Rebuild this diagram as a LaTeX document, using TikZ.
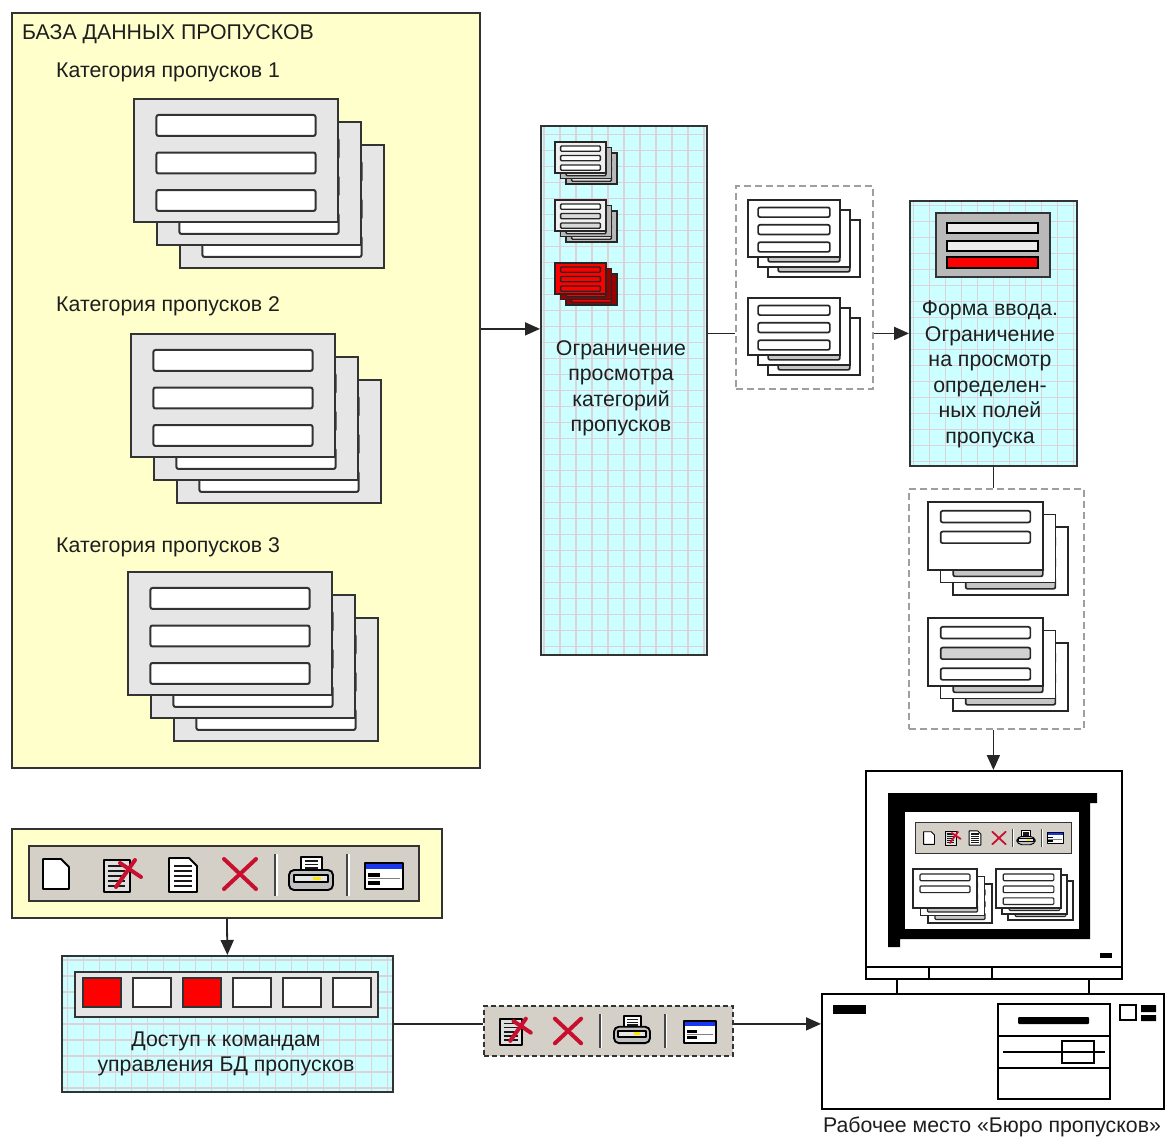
\documentclass[tikz,border=0pt]{standalone}
\usepackage{fontspec}
\setmainfont{Liberation Sans}
\usetikzlibrary{arrows.meta,positioning,calc}
\definecolor{ink}{HTML}{1E1E1E}
\definecolor{edge}{HTML}{333333}
\definecolor{straw}{HTML}{FFFFCC}
\definecolor{aqua}{HTML}{CCFFFF}
\definecolor{gridpink}{HTML}{DED2DA}
\definecolor{panel}{HTML}{D4D0C8}
\definecolor{sheetgray}{HTML}{E6E6E6}
\definecolor{alarm}{HTML}{FF0000}
\definecolor{darkalarm}{HTML}{9A0000}
\definecolor{xred}{HTML}{C8102E}
\definecolor{titleblue}{HTML}{1838F0}
% one form sheet: top-left x, y, width, height, sheet colour, bar colours
\newcommand{\sheet}[6]{%
  \draw[sheetline, fill=#5] ({#1},{#2}) rectangle ++({#3},{#4});
  \foreach \bc [count=\i] in {#6}
    \draw[barline, fill=\bc] ({#1+0.11*#3},{#2+(0.13+0.305*(\i-1))*#4}) rectangle ++({0.78*#3},{0.17*#4});
}
% three sheets, back to front: x, y, w, h, offset, front colour, front bars, back colour, back bars
\newcommand{\sheetstack}[9]{%
  \sheet{#1+2*#5}{#2+2*#5}{#3}{#4}{#8}{#9}
  \sheet{#1+#5}{#2+#5}{#3}{#4}{#8}{#9}
  \sheet{#1}{#2}{#3}{#4}{#6}{#7}
}
\tikzset{
  txt/.style={font=\fontsize{21.3}{25.5}\selectfont, text=ink, inner sep=0pt},
  ctxt/.style={txt, align=center},
  dbbox/.style={rectangle, draw=edge, line width=1.8pt, fill=straw, anchor=north west, inner sep=0pt},
  gridbox/.style={rectangle, draw=edge, line width=1.8pt, fill=aqua, anchor=north west, inner sep=0pt,
    path picture={\draw[gridpink, line width=1.2pt] (path picture bounding box.south west) grid[step=16pt] (path picture bounding box.north east);}},
  setbox/.style={rectangle, draw=gray!75, dash pattern=on 7pt off 4pt, line width=1.8pt, fill=white, anchor=north west, inner sep=0pt},
  toolbox/.style={rectangle, draw=edge, line width=1.8pt, fill=panel, anchor=north west, inner sep=0pt},
  hwbox/.style={rectangle, draw=black, line width=1.8pt, fill=white, anchor=north west, inner sep=0pt},
  hw/.style={draw=black, line width=1.8pt},
  flow/.style={-{Triangle[length=15pt,width=13pt]}, draw=black!85, line width=1.8pt},
  link/.style={draw=black!85, line width=1.8pt},
  sheetline/.style={draw=edge, line width=2.2pt},
  barline/.style={draw=edge, line width=2pt, rounded corners=2pt},
  ico/.style={draw=black, line width=1.9pt, line join=round},
  xstroke/.style={draw=xred, line width=4pt, line cap=round},
  icnew/.pic={\draw[ico, fill=white] (-13,-15) -- (5,-15) -- (13,-7) -- (13,15) -- (-13,15) -- cycle;},
  icedit/.pic={
    \draw[ico, fill=gray!25] (-19,-15) rectangle (7,17);
    \foreach \k in {-9,-4,1,6,11} \draw[draw=gray!20!black, line width=1.5pt] (-15,\k) -- (2,\k);
    \draw[xstroke] (-7,12) -- (12,-15);
    \draw[xstroke] (-3,-12) -- (18,2);},
  icdoc/.pic={
    \draw[ico, fill=white] (-14,-17) -- (6,-17) -- (14,-9) -- (14,17) -- (-14,17) -- cycle;
    \foreach \k in {-9,-4,1,6,11} \draw[draw=gray!20!black, line width=1.5pt] (-9,\k) -- (9,\k);},
  icdel/.pic={\draw[xstroke] (-16,-15) -- (16,15); \draw[xstroke] (-16,15) -- (16,-15);},
  icsep/.pic={\draw[draw=gray!55!black, line width=1.5pt] (0,-21) -- (0,21);
    \draw[draw=white, line width=1.2pt] (1.9,-21) -- (1.9,21);},
  icprint/.pic={
    \draw[ico, fill=white] (-10,-17) rectangle (11,-3);
    \foreach \k in {-13,-9.5,-6} \draw[draw=gray!20!black, line width=1.2pt] (-6,\k) -- (7,\k);
    \draw[ico, fill=gray!50, rounded corners=5pt] (-22,-4) rectangle (22,16);
    \draw[ico, fill=gray!20] (-17,1) rectangle (17,8);
    \fill[yellow!90!orange] (2,3) rectangle (10,6);},
  icform/.pic={
    \fill[white] (-19,-13) rectangle (19,13);
    \fill[titleblue] (-19,-13) rectangle (19,-7);
    \fill[black] (-16,-3) rectangle (-4,1);
    \fill[black] (-16,5) rectangle (-4,9);
    \draw[draw=gray, line width=0.8pt] (-16,2.8) -- (16,2.8);
    \draw[ico] (-19,-13) rectangle (19,13);}
}

\begin{document}
\begin{tikzpicture}[x=1pt, y=-1pt]
  \useasboundingbox (0,0) rectangle (1167,1137);

  % pass database with its three categories
  \node[dbbox, minimum width=468pt, minimum height=755pt] (db) at (11,12) {};
  \node[txt, anchor=west] (dbtitle) at (22,34) {БАЗА ДАННЫХ ПРОПУСКОВ};
  \node[txt, anchor=west] (cat1) at (56,72) {Категория пропусков 1};
  \node[txt, anchor=west] (cat2) at (56,306) {Категория пропусков 2};
  \node[txt, anchor=west] (cat3) at (56,547) {Категория пропусков 3};
  \sheetstack{134}{99}{204}{123}{23}{sheetgray}{white,white,white}{sheetgray}{white,white,white}
  \sheetstack{131}{334}{204}{123}{23}{sheetgray}{white,white,white}{sheetgray}{white,white,white}
  \sheetstack{128}{572}{204}{123}{23}{sheetgray}{white,white,white}{sheetgray}{white,white,white}

  % category filter
  \node[gridbox, minimum width=166pt, minimum height=529pt] (filter) at (540,125) {};
  \begin{scope}[sheetline/.style={draw=black!85, line width=1.6pt},
                barline/.style={draw=black!85, line width=1.3pt, rounded corners=1pt}]
    \sheetstack{555}{142}{51}{31}{5.5}{gray!12}{white,white,white}{gray!55}{gray!25,gray!25,gray!25}
    \sheetstack{555}{200}{51}{31}{5.5}{gray!12}{white,gray!30,gray!30}{gray!55}{gray!25,gray!25,gray!25}
    \sheetstack{555}{263}{51}{31}{5.5}{alarm}{alarm,alarm,alarm}{darkalarm}{alarm,alarm,alarm}
  \end{scope}
  \node[ctxt] (filtertxt) at (621,388.5) {Ограничение\\просмотра\\категорий\\пропусков};

  % allowed categories
  \node[setbox, minimum width=137pt, minimum height=203pt] (set1) at (735,185) {};
  \begin{scope}[sheetline/.style={draw=black!85, line width=1.9pt},
                barline/.style={draw=black!85, line width=1.7pt, rounded corners=2pt}]
    \sheetstack{748}{200}{92}{57}{10}{white}{white,white,white}{white}{gray!45,gray!45,gray!45}
    \sheetstack{748}{298}{92}{57}{10}{white}{white,white,white}{white}{gray!45,gray!45,gray!45}
  \end{scope}

  % input form with hidden field
  \node[gridbox, minimum width=167pt, minimum height=265pt] (form) at (909,200) {};
  \draw[draw=edge, line width=2.4pt, fill=gray!55] (936,213) rectangle (1050,277);
  \draw[draw=black, line width=1.8pt, fill=gray!15] (947,223) rectangle (1038,233);
  \draw[draw=black, line width=1.8pt, fill=gray!15] (947,241) rectangle (1038,251);
  \draw[draw=black, line width=1.8pt, fill=alarm] (947,257) rectangle (1038,268);
  \node[ctxt] (formtxt) at (990,374.5) {Форма ввода.\\Ограничение\\на просмотр\\определен-\\ных полей\\пропуска};

  % allowed fields
  \node[setbox, minimum width=175pt, minimum height=240pt] (set2) at (908,488) {};
  \begin{scope}[sheetline/.style={draw=black!85, line width=1.9pt},
                barline/.style={draw=black!85, line width=1.7pt, rounded corners=2pt}]
    \sheetstack{928}{502}{115}{68}{12.5}{white}{white,white}{white}{gray!45,gray!45,gray!45}
    \sheetstack{928}{618}{115}{68}{12.5}{white}{white,gray!35,white}{white}{gray!45,gray!45,gray!45}
  \end{scope}

  % workstation: monitor
  \node[hwbox, minimum width=256pt, minimum height=208pt] (monitor) at (865,770) {};
  \draw[hw] (865,967) -- (1121,967) (929,967) -- (929,978) (992,967) -- (992,978);
  \draw[hw] (897,978) -- (897,993) (1089,978) -- (1089,993);
  \fill[black] (888,793) -- (1097,793) -- (1097,803) -- (1090,803) -- (1090,939)
    -- (900,939) -- (900,947) -- (888,947) -- cycle;
  \fill[white] (905,812) rectangle (1079,929);
  \fill[black] (1100,953) rectangle (1112,958);
  \node[toolbox, line width=1.3pt, minimum width=156pt, minimum height=31pt] (screenbar) at (915,822) {};
  \begin{scope}[ico/.style={draw=black, line width=0.9pt, line join=round},
                xstroke/.style={draw=xred, line width=1.8pt, line cap=round}]
    \pic[scale=0.42] at (929,838) {icnew};
    \pic[scale=0.42] at (953,838) {icedit};
    \pic[scale=0.42] at (975,838) {icdoc};
    \pic[scale=0.42] at (999,838) {icdel};
    \pic[scale=0.42] at (1013,838) {icsep};
    \pic[scale=0.42] at (1026,838) {icprint};
    \pic[scale=0.42] at (1042,838) {icsep};
    \pic[scale=0.42] at (1055,838) {icform};
  \end{scope}
  \begin{scope}[sheetline/.style={draw=black!85, line width=1.4pt},
                barline/.style={draw=black!85, line width=1.2pt, rounded corners=1pt}]
    \sheetstack{913}{869}{64}{39}{7.5}{white}{white,white}{white}{gray!45,gray!45,gray!45}
    \sheetstack{996}{869}{65}{39}{6}{white}{white,white,white}{white}{gray!45,gray!45,gray!45}
  \end{scope}

  % workstation: system unit
  \node[hwbox, minimum width=342pt, minimum height=115pt] (base) at (821,993) {};
  \fill[black] (833,1005) rectangle (866,1014);
  \draw[hw] (998,1004) rectangle (1110,1099);
  \draw[hw] (998,1036) -- (1110,1036) (998,1068) -- (1110,1068);
  \fill[black, rounded corners=1pt] (1018,1017) rectangle (1089,1024);
  \draw[hw] (1003,1052) -- (1105,1052);
  \draw[hw] (1062,1041) rectangle (1094,1063);
  \draw[hw] (1120,1005) rectangle (1136,1020);
  \fill[black] (1141,1005) rectangle (1156,1012) (1141,1015) rectangle (1156,1021);
  \node[txt] (pclabel) at (992,1127) {Рабочее место «Бюро пропусков»};

  % command toolbar of the database
  \node[dbbox, minimum width=430pt, minimum height=89pt] (cmdpanel) at (11,828) {};
  \node[toolbox, minimum width=390pt, minimum height=55pt] (cmdbar) at (28,845) {};
  \pic at (56,874) {icnew};
  \pic at (123,875) {icedit};
  \pic at (183,875) {icdoc};
  \pic at (240,874) {icdel};
  \pic at (275,875) {icsep};
  \pic at (311,874) {icprint};
  \pic at (347,875) {icsep};
  \pic at (384,876) {icform};

  % command access
  \node[gridbox, minimum width=331pt, minimum height=136pt] (access) at (61,955) {};
  \node[toolbox, fill=sheetgray, minimum width=303pt, minimum height=45pt] (accessbar) at (74,971) {};
  \foreach \c [count=\i] in {alarm,white,alarm,white,white,white}
    \draw[draw=edge, line width=2pt, fill=\c] ({83+50*(\i-1)},978) rectangle ++(38,29);
  \node[ctxt] (accesstxt) at (226,1054) {Доступ к командам\\управления БД пропусков};

  % permitted commands
  \node[toolbox, dash pattern=on 5pt off 3pt, minimum width=249pt, minimum height=50pt] (subbar) at (483,1005) {};
  \pic[scale=0.82] at (516,1031) {icedit};
  \pic[scale=0.82] at (568,1031) {icdel};
  \pic[scale=0.82] at (600,1031) {icsep};
  \pic[scale=0.82] at (632,1030) {icprint};
  \pic[scale=0.82] at (665,1031) {icsep};
  \pic[scale=0.82] at (700,1032) {icform};

  % connectors
  \draw[flow] ([yshift=61.5pt]db.east) -- ([yshift=61.5pt]db.east -| filter.west);
  \draw[link] (filter.east |- form.west) -- (set1.west |- form.west);
  \draw[flow] (set1.east |- form.west) -- (form.west);
  \draw[link] (form.south) -- (form.south |- set2.north);
  \draw[flow] (set2.south -| form.south) -- (form.south |- monitor.north);
  \draw[flow] (cmdpanel.south) -- (access.north);
  \draw[link] (access.east) -- (access.east -| subbar.west);
  \draw[flow] (subbar.east |- access.east) -- (base.west |- access.east);
\end{tikzpicture}
\end{document}
